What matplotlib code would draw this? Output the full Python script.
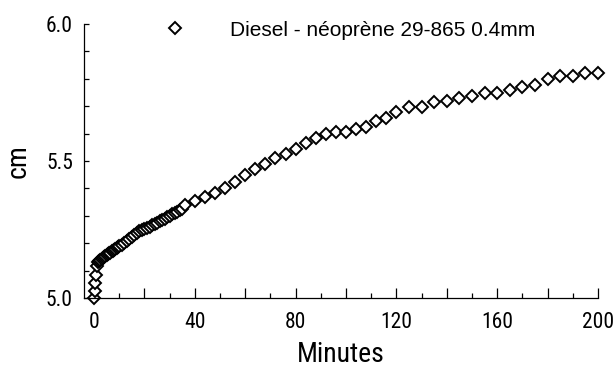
import matplotlib
matplotlib.use('Agg')
import matplotlib.pyplot as plt
import matplotlib.font_manager as fm
from matplotlib.ticker import MultipleLocator, FuncFormatter

# --- data ---
minutes = [0, 0.25, 0.5, 0.75, 1,
           1.5, 2, 2.5, 3, 3.5, 4, 4.5, 5, 5.5, 6, 6.5, 7, 7.5, 8, 8.5, 9, 9.5, 10,
           11, 12, 13, 14, 15, 16, 17, 18, 19, 20, 21,
           22, 23, 24, 25, 26, 27, 28, 29, 30, 31, 32, 33, 34, 35,
           36, 40, 44, 48, 52, 56, 60, 64, 68, 72, 76, 80, 84, 88, 92, 96, 100,
           104, 108, 112, 116, 120, 125, 130, 135, 140, 145, 150, 155, 160,
           165, 170, 175, 180, 185, 190, 195, 200]
cm = [5.00, 5.025, 5.055, 5.085, 5.115,
      5.13, 5.135, 5.14, 5.143, 5.147, 5.15, 5.153, 5.156, 5.16, 5.163, 5.166, 5.17, 5.172, 5.176, 5.18, 5.183, 5.186, 5.19,
      5.195, 5.20, 5.207, 5.214, 5.222, 5.23, 5.237, 5.243, 5.248, 5.252, 5.256,
      5.26, 5.265, 5.27, 5.275, 5.28, 5.285, 5.29, 5.295, 5.30, 5.305, 5.31, 5.315, 5.32, 5.326,
      5.34, 5.355, 5.37, 5.385, 5.40, 5.425, 5.45, 5.47, 5.49, 5.51, 5.525, 5.545, 5.565, 5.585, 5.597, 5.607, 5.605,
      5.616, 5.625, 5.645, 5.656, 5.678, 5.698, 5.696, 5.717, 5.718, 5.729, 5.737, 5.749, 5.749,
      5.759, 5.769, 5.777, 5.798, 5.81, 5.81, 5.82, 5.82]
series_label = 'Diesel - néoprène 29-865 0.4mm'

# a condensed face for the axis texts, if one is installed
names = {f.name for f in fm.fontManager.ttflist}
axis_font = 'Liberation Sans'
for cand in ['Liberation Sans Narrow', 'Roboto Condensed', 'Arial Narrow']:
    if cand in names:
        axis_font = cand
        break
narrow = axis_font != 'Liberation Sans'
plt.rcParams['font.family'] = ['Liberation Sans', 'DejaVu Sans']

fig = plt.figure(figsize=(6.14, 3.75), dpi=100)
ax = fig.add_axes([84 / 614, 1 - 298 / 375, (598 - 84) / 614, (298 - 24) / 375])

ax.plot(minutes, cm, linestyle='none', marker='D', markersize=6.3,
        markerfacecolor='white', markeredgecolor='black', markeredgewidth=1.4,
        clip_on=False, label=series_label)

ax.set_xlim(-4, 200)
ax.set_ylim(5.0, 6.0)

# x: long ticks every 20, short every 10, labels every 40
ax.xaxis.set_major_locator(MultipleLocator(20))
ax.xaxis.set_minor_locator(MultipleLocator(10))
ax.xaxis.set_major_formatter(FuncFormatter(lambda v, p: f'{v:.0f}' if round(v) % 40 == 0 else ''))
# y: ticks every 0.1, labels every 0.5
ax.yaxis.set_major_locator(MultipleLocator(0.5))
ax.yaxis.set_minor_locator(MultipleLocator(0.1))
ax.yaxis.set_major_formatter(FuncFormatter(lambda v, p: f'{v:.1f}'))

tick_size = 15.5 if narrow else 14
ax.tick_params(axis='x', which='major', direction='in', length=7.5, width=0.9, pad=10)
ax.tick_params(axis='x', which='minor', direction='in', length=3.8, width=0.9)
ax.tick_params(axis='y', which='both', direction='in', length=3.8, width=0.9, pad=8)
for lbl in ax.get_xticklabels() + ax.get_yticklabels():
    lbl.set_fontfamily(axis_font)
    lbl.set_fontsize(tick_size)

label_size = 20 if narrow else 18
ax.set_xlabel('Minutes', fontsize=label_size, family=axis_font, labelpad=6)
ax.set_ylabel('cm', fontsize=label_size, family=axis_font, labelpad=10)

ax.spines['top'].set_visible(False)
ax.spines['right'].set_visible(False)
ax.spines['left'].set_linewidth(0.9)
ax.spines['bottom'].set_linewidth(0.9)

ax.legend(loc='center left', bbox_to_anchor=(154 / 614, 1 - 30 / 375),
          bbox_transform=fig.transFigure, frameon=False, fontsize=15,
          handlelength=2, handletextpad=1.65, borderpad=0, borderaxespad=0)

fig.savefig('out.png', dpi=100)
